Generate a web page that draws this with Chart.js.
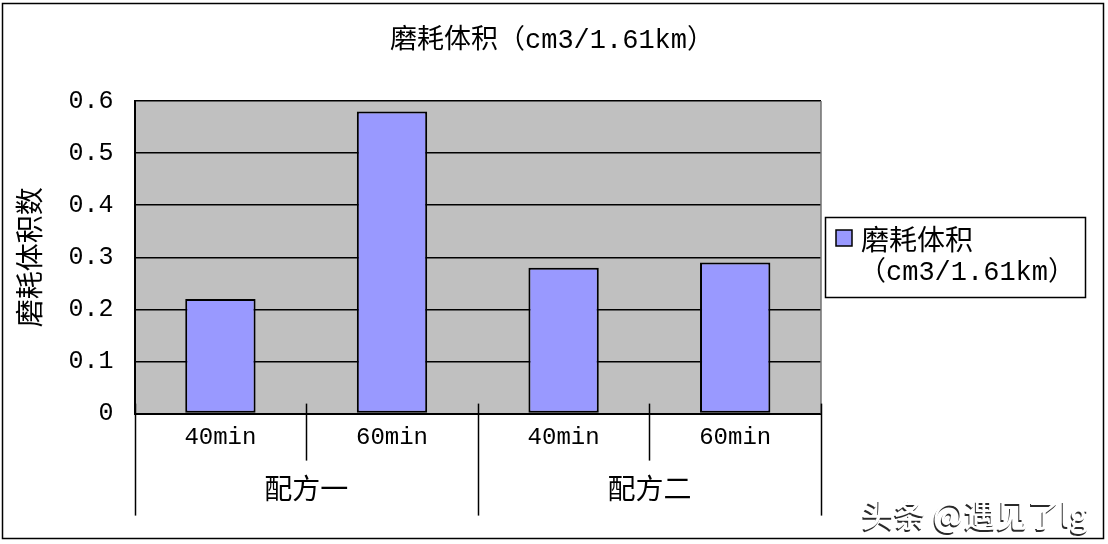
<!DOCTYPE html>
<html><head><meta charset="utf-8">
<script src="https://cdn.jsdelivr.net/npm/chart.js@4"></script>
<style>html,body{margin:0;padding:0;background:#fff;}canvas{display:block}</style>
</head><body>
<canvas id="c" width="1108" height="544"></canvas>
<script>
const titleText = '磨耗体积（cm3/1.61km）';
const yAxisTitle = '磨耗体积数';
const subCategories = ['40min', '60min', '40min', '60min'];
const groupLabels = ['配方一', '配方二'];
const seriesLabel = '磨耗体积（cm3/1.61km）';
const legendLines = ['磨耗体积', '（cm3/1.61km）'];
const values = [0.22, 0.58, 0.28, 0.29];
const yMin = 0, yMax = 0.6, yStep = 0.1;
const watermark = '头条 @遇见了lg';

const MONO = "'Liberation Mono', 'Noto Sans CJK SC', monospace";
const CJK = "'Noto Sans CJK SC', sans-serif";

const decor = {
  id: 'decor',
  beforeDraw(chart) {
    const {ctx, chartArea: a} = chart;
    ctx.save();
    ctx.fillStyle = '#C0C0C0';
    ctx.fillRect(a.left, a.top, a.right - a.left, a.bottom - a.top);
    ctx.restore();
  },
  afterDraw(chart) {
    const {ctx, chartArea: a} = chart;
    const x = chart.scales.x;
    const n = subCategories.length;
    const per = n / groupLabels.length;
    ctx.save();
    // title
    ctx.fillStyle = '#000';
    ctx.textAlign = 'center';
    ctx.textBaseline = 'middle';
    ctx.font = "27px " + MONO;
    ctx.fillText(titleText, 552, 41);
    // plot right edge
    ctx.strokeStyle = '#707070';
    ctx.lineWidth = 1.5;
    ctx.beginPath(); ctx.moveTo(a.right, a.top); ctx.lineTo(a.right, a.bottom); ctx.stroke();
    // category separators
    ctx.strokeStyle = '#000';
    ctx.lineWidth = 1.5;
    for (let i = 0; i <= n; i++) {
      const px = Math.round(x.getPixelForValue(i - 0.5)) + 0.5;
      const isGroup = i % per === 0;
      ctx.beginPath();
      ctx.moveTo(px, a.bottom - 10);
      ctx.lineTo(px, isGroup ? a.bottom + 102 : a.bottom + 47);
      ctx.stroke();
    }
    // legend
    const lx = a.right + 4, lw = 260, lh = 80;
    const ly = Math.round((a.top + a.bottom) / 2 - lh / 2);
    ctx.fillStyle = '#fff';
    ctx.fillRect(lx, ly, lw, lh);
    ctx.strokeStyle = '#000';
    ctx.lineWidth = 1.5;
    ctx.strokeRect(lx + 0.5, ly + 0.5, lw, lh);
    const ds = chart.data.datasets[0];
    ctx.fillStyle = ds.backgroundColor;
    ctx.fillRect(lx + 11, ly + 13, 16, 16);
    ctx.strokeRect(lx + 11, ly + 13, 16, 16);
    ctx.fillStyle = '#000';
    ctx.textBaseline = 'middle';
    ctx.textAlign = 'left';
    ctx.font = "28px " + CJK;
    ctx.fillText(legendLines[0], lx + 36, ly + 22);
    ctx.font = "27px " + MONO;
    ctx.fillText(legendLines[1], lx + 34, ly + 56);
    // outer frame
    ctx.strokeStyle = '#000';
    ctx.lineWidth = 1.5;
    ctx.strokeRect(2.5, 3.5, 1101, 535);
    // watermark
    ctx.font = "500 32px " + CJK;
    ctx.textAlign = 'right';
    ctx.fillStyle = 'rgba(30,30,30,0.95)';
    ctx.fillText(watermark, 1087, 517);
    ctx.fillStyle = '#fff';
    ctx.fillText(watermark, 1088, 515);
    ctx.restore();
  }
};

new Chart(document.getElementById('c'), {
  type: 'bar',
  data: {
    labels: subCategories,
    datasets: [{
      label: seriesLabel,
      data: values,
      backgroundColor: '#9999FF',
      borderColor: '#000',
      borderWidth: 2,
      borderSkipped: false,
      categoryPercentage: 1,
      barPercentage: 0.41,
      xAxisID: 'x'
    }]
  },
  options: {
    responsive: false,
    animation: false,
    devicePixelRatio: 1,
    layout: {padding: {left: 8, right: 287, top: 101, bottom: 30}},
    plugins: {
      legend: {display: false},
      tooltip: {enabled: false},
      title: {display: false}
    },
    scales: {
      x: {
        type: 'category',
        grid: {display: false},
        border: {display: true, color: '#000', width: 2},
        ticks: {color: '#000', font: {family: MONO, size: 24}, padding: 2, autoSkip: false, maxRotation: 0}
      },
      x2: {
        type: 'category',
        labels: groupLabels,
        offset: true,
        position: 'bottom',
        grid: {display: false},
        border: {display: false},
        ticks: {color: '#000', font: {family: CJK, size: 28}, padding: 9, autoSkip: false, maxRotation: 0}
      },
      y: {
        min: yMin, max: yMax,
        ticks: {stepSize: yStep, color: '#000', font: {family: MONO, size: 25}, padding: 21},
        grid: {color: '#000', lineWidth: 1.5, drawTicks: false},
        border: {color: '#000', width: 2},
        title: {display: true, text: yAxisTitle, color: '#000', font: {family: CJK, size: 28}, padding: {top: 5, bottom: 1}}
      }
    }
  },
  plugins: [decor]
});
</script>
</body></html>
